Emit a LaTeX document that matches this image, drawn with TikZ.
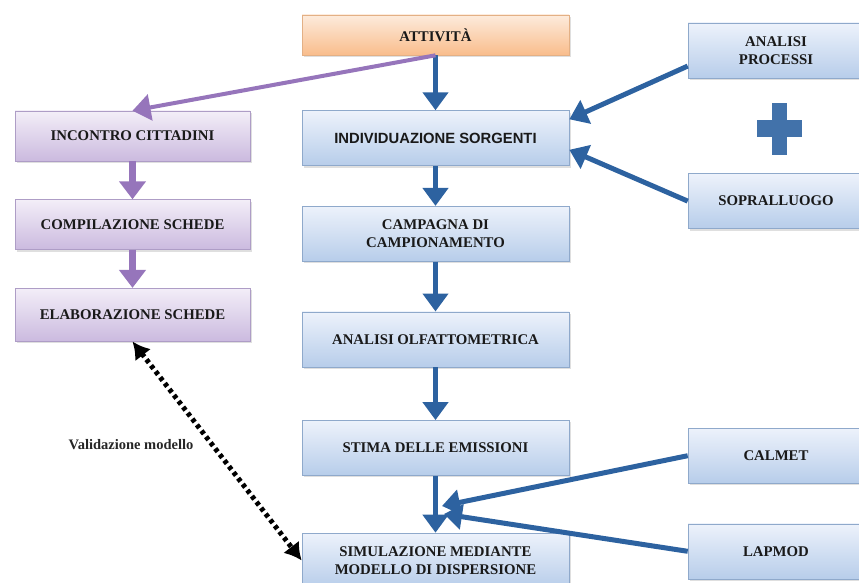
\documentclass[tikz,border=0pt]{standalone}
\usepackage{fontspec}
\setmainfont{Liberation Serif}
\newfontfamily\arialbold{Liberation Sans}[BoldFont={Liberation Sans Bold}]
\usepackage{tikz}
\usetikzlibrary{positioning,arrows.meta,shadows}

\definecolor{boxblue}{HTML}{B7CDEA}
\definecolor{boxbluetop}{HTML}{EDF2FB}
\definecolor{lineblue}{HTML}{8FA9CB}
\definecolor{arrowblue}{HTML}{2D62A0}
\definecolor{boxorange}{HTML}{F9BD8C}
\definecolor{boxorangetop}{HTML}{FDEBDC}
\definecolor{lineorange}{HTML}{E3B085}
\definecolor{boxpurple}{HTML}{CBBADF}
\definecolor{boxpurpletop}{HTML}{F3EEF8}
\definecolor{linepurple}{HTML}{AE9DC6}
\definecolor{arrowpurple}{HTML}{9675BB}

\tikzset{
  boxtext/.style={font=\fontsize{14.8}{17.5}\selectfont\bfseries, text=black!90, align=center},
  mainbox/.style={rectangle, boxtext, draw=lineblue, line width=0.6pt,
    top color=boxbluetop, bottom color=boxblue, minimum width=267pt, minimum height=55pt,
    drop shadow={opacity=0.25, shadow xshift=1.5pt, shadow yshift=-2pt}},
  topbox/.style={mainbox, draw=lineorange, top color=boxorangetop, bottom color=boxorange,
    minimum height=40pt},
  leftbox/.style={mainbox, draw=linepurple, top color=boxpurpletop, bottom color=boxpurple,
    minimum width=235pt, minimum height=50pt},
  sidebox/.style={mainbox, minimum width=176pt},
  flow/.style={draw=arrowblue, line width=5pt, -{Triangle[width=25pt,length=18pt]}},
  civic/.style={draw=arrowpurple, line width=7pt, -{Triangle[width=26pt,length=18pt]}},
  validation/.style={draw=black, line width=5pt, dash pattern=on 4pt off 3.5pt,
    {Latex[width=20pt,length=17pt]}-{Latex[width=20pt,length=17pt]}}
}

\begin{document}
\begin{tikzpicture}[x=1pt,y=-1pt]
  \useasboundingbox (0,0) rectangle (859,583);

  % colonna centrale
  \node[topbox] (att) at (435.5,35) {ATTIVITÀ};
  \node[mainbox, font=\fontsize{14.8}{17}\arialbold\bfseries, below=55pt of att] (ind) {INDIVIDUAZIONE SORGENTI};
  \node[mainbox, below=40pt of ind] (camp) {CAMPAGNA DI\\CAMPIONAMENTO};
  \node[mainbox, below=50pt of camp] (olf) {ANALISI OLFATTOMETRICA};
  \node[mainbox, below=53pt of olf] (stima) {STIMA DELLE EMISSIONI};
  \node[mainbox, below=57pt of stima] (sim) {SIMULAZIONE MEDIANTE\\MODELLO DI DISPERSIONE};

  % colonna sinistra (cittadini)
  \node[leftbox] (inc) at (132.5,136) {INCONTRO CITTADINI};
  \node[leftbox, below=38pt of inc] (comp) {COMPILAZIONE SCHEDE};
  \node[leftbox, minimum height=53pt, below=38pt of comp] (elab) {ELABORAZIONE SCHEDE};

  % colonna destra
  \node[sidebox] (proc) at (776,50.5) {ANALISI\\PROCESSI};
  \node[sidebox, below=95pt of proc] (sop) {SOPRALLUOGO};
  \node[sidebox, below=199pt of sop] (calmet) {CALMET};
  \node[sidebox, below=40pt of calmet] (lapmod) {LAPMOD};

  % segno piu
  \fill[arrowblue!90] (772,103) rectangle (787,155);
  \fill[arrowblue!90] (757,120.5) rectangle (802,137.5);

  \node[font=\fontsize{14.5}{16}\selectfont\bfseries, text=black!85] (val) at (131,445) {Validazione modello};
  \coordinate (incal) at (442,506);
  \coordinate (inlap) at (444,514);

  % frecce
  \draw[flow] (att.south) -- (ind.north);
  \draw[civic, line width=4pt] (att.south) -- (inc.north);
  \draw[flow] (ind.south) -- (camp.north);
  \draw[flow] (camp.south) -- (olf.north);
  \draw[flow] (olf.south) -- (stima.north);
  \draw[flow] (stima.south) -- (sim.north);
  \draw[flow] (proc.190) -- (ind.8);
  \draw[flow] (sop.west) -- (ind.355);
  \draw[flow] (calmet.west) -- (incal);
  \draw[flow] (lapmod.west) -- (inlap);
  \draw[civic] (inc.south) -- (comp.north);
  \draw[civic] (comp.south) -- (elab.north);
  \draw[validation] (elab.south) -- (sim.west);
\end{tikzpicture}
\end{document}
